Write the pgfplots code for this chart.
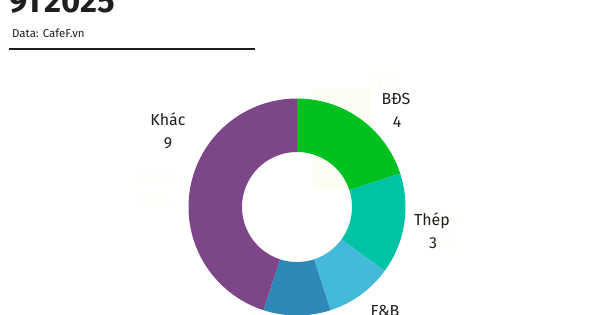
\documentclass[border=0pt]{standalone}
\usepackage{fontspec}
\setmainfont{Fira Sans}
\usepackage{pgfplots}
\pgfplotsset{compat=1.18}
\definecolor{cGreen}{RGB}{0,193,32}
\definecolor{cTeal}{RGB}{0,194,165}
\definecolor{cLBlue}{RGB}{68,185,217}
\definecolor{cDBlue}{RGB}{46,137,185}
\definecolor{cPurple}{RGB}{125,70,137}
\definecolor{cText}{RGB}{30,30,30}
\definecolor{cGhost}{RGB}{253,253,243}
% data
\def\vBDS{4}\def\vThep{3}\def\vFB{2}\def\vOther{2}\def\vKhac{9}
\pgfmathsetmacro\total{\vBDS+\vThep+\vFB+\vOther+\vKhac}
\pgfmathsetmacro\aA{90}
\pgfmathsetmacro\aB{\aA-360*\vBDS/\total}
\pgfmathsetmacro\aC{\aB-360*\vThep/\total}
\pgfmathsetmacro\aD{\aC-360*\vFB/\total}
\pgfmathsetmacro\aE{\aD-360*\vOther/\total}
\pgfmathsetmacro\aF{\aE-360*\vKhac/\total}
\def\Ro{108.5}\def\Ri{55}
\newcommand\sector[3]{%
  \addplot[fill=#3, draw=none, samples at={0,...,201}, variable=\t]
   ({ifthenelse(\t<=100, \Ro*cos(#1+(#2-#1)*\t/100), \Ri*cos(#2+(#1-#2)*(\t-101)/100))},
    {ifthenelse(\t<=100, \Ro*sin(#1+(#2-#1)*\t/100), \Ri*sin(#2+(#1-#2)*(\t-101)/100))});
}
\begin{document}
\begin{tikzpicture}
\useasboundingbox (0,0) rectangle (600bp,-315bp);
% title block
\node[anchor=base west, inner sep=0, text=cText, font=\fontsize{33}{33}\selectfont\bfseries] at (9bp,-12bp) {9T2025};
\node[anchor=base west, inner sep=0, text=cText, font=\fontsize{11.5}{13}\selectfont] at (12bp,-37bp) {Data: CafeF.vn};
\draw[cText, line width=1.8bp] (9bp,-49bp) -- (255bp,-49bp);
\begin{axis}[
  at={(297bp,-207bp)}, anchor=center,
  x=1bp, y=1bp, xmin=-200, xmax=200, ymin=-150, ymax=150,
  hide axis, clip=false,
]
% ghost labels
\fill[cGhost] (axis cs:16,119) rectangle (axis cs:73,17);
\node[text=cGhost, font=\fontsize{16}{16}\selectfont, anchor=base] at (axis cs:85,120) {BĐS};
\node[text=cGhost, font=\fontsize{16}{16}\selectfont, anchor=base] at (axis cs:-142,24) {Khác};
\node[text=cGhost, font=\fontsize{16}{16}\selectfont, anchor=base] at (axis cs:-142,1) {45\%};
\node[text=cGhost, font=\fontsize{16}{16}\selectfont, anchor=base] at (axis cs:143,-18) {Thép};
\node[text=cGhost, font=\fontsize{16}{16}\selectfont, anchor=base] at (axis cs:143,-41) {15\%};
\sector{\aA}{\aB}{cGreen}
\sector{\aB}{\aC}{cTeal}
\sector{\aC}{\aD}{cLBlue}
\sector{\aD}{\aE}{cDBlue}
\sector{\aE}{\aF}{cPurple}
% labels
\node[text=cText, font=\fontsize{16}{16}\selectfont, anchor=base] at (axis cs:99,103) {BĐS};
\node[text=cText, font=\fontsize{16}{16}\selectfont, anchor=base] at (axis cs:100,80) {4};
\node[text=cText, font=\fontsize{16}{16}\selectfont, anchor=base] at (axis cs:135,-18) {Thép};
\node[text=cText, font=\fontsize{16}{16}\selectfont, anchor=base] at (axis cs:136,-41) {3};
\node[text=cText, font=\fontsize{16}{16}\selectfont, anchor=base] at (axis cs:88,-109) {F\&B};
\node[text=cText, font=\fontsize{16}{16}\selectfont, anchor=base] at (axis cs:-129,82) {Khác};
\node[text=cText, font=\fontsize{16}{16}\selectfont, anchor=base] at (axis cs:-129,59) {9};
\end{axis}
\end{tikzpicture}
\end{document}
